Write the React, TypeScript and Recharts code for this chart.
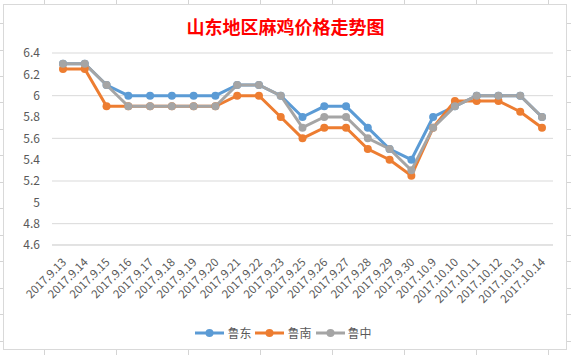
import React from 'react';
import { LineChart, Line, XAxis, YAxis, CartesianGrid } from 'recharts';

const DATES = [
  '2017.9.13', '2017.9.14', '2017.9.15', '2017.9.16', '2017.9.17', '2017.9.18',
  '2017.9.19', '2017.9.20', '2017.9.21', '2017.9.22', '2017.9.23', '2017.9.25',
  '2017.9.26', '2017.9.27', '2017.9.28', '2017.9.29', '2017.9.30', '2017.10.9',
  '2017.10.10', '2017.10.11', '2017.10.12', '2017.10.13', '2017.10.14'
];

const LUDONG = [6.3, 6.3, 6.1, 6.0, 6.0, 6.0, 6.0, 6.0, 6.1, 6.1, 6.0, 5.8, 5.9, 5.9, 5.7, 5.5, 5.4, 5.8, 5.9, 6.0, 6.0, 6.0, 5.8];
const LUNAN = [6.25, 6.25, 5.9, 5.9, 5.9, 5.9, 5.9, 5.9, 6.0, 6.0, 5.8, 5.6, 5.7, 5.7, 5.5, 5.4, 5.25, 5.7, 5.95, 5.95, 5.95, 5.85, 5.7];
const LUZHONG = [6.3, 6.3, 6.1, 5.9, 5.9, 5.9, 5.9, 5.9, 6.1, 6.1, 6.0, 5.7, 5.8, 5.8, 5.6, 5.5, 5.3, 5.7, 5.9, 6.0, 6.0, 6.0, 5.8];

const Y_TICKS = [4.6, 4.8, 5, 5.2, 5.4, 5.6, 5.8, 6, 6.2, 6.4];

const SERIES = [
  { key: 'ludong', name: '鲁东', color: '#5B9BD5' },
  { key: 'lunan', name: '鲁南', color: '#ED7D31' },
  { key: 'luzhong', name: '鲁中', color: '#A5A5A5' }
];

const data = DATES.map((date, i) => ({
  date,
  ludong: LUDONG[i],
  lunan: LUNAN[i],
  luzhong: LUZHONG[i]
}));

const FONT = '"Noto Sans CJK SC", "Noto Sans", sans-serif';
const TEXT = '#595959';
const GRID = '#D9D9D9';

// spreadsheet cell lines peeking around the chart frame
const COLS = [44, 116, 188, 260, 332, 404, 476, 548];
const ROWS = [23, 50, 76, 102, 129, 155, 182, 208, 235, 261, 288, 314, 341];

const XTick = (props: any) => {
  const { x, y, payload } = props;
  return (
    <g transform={`translate(${x + 4},${y + 10})`}>
      <text textAnchor="end" transform="rotate(-45)" fontSize={11.5} fill={TEXT} fontFamily={FONT}>
        {payload.value}
      </text>
    </g>
  );
};

const App: React.FC = () => {
  return (
    <div style={{ position: 'absolute', left: 0, top: 0, width: 571, height: 355, background: '#fff', fontFamily: FONT }}>
      <svg width={571} height={355} style={{ position: 'absolute', left: 0, top: 0 }}>
        {COLS.map((cx) => (
          <line key={`c${cx}`} x1={cx + 0.5} x2={cx + 0.5} y1={0} y2={355} stroke="#D4D4D4" />
        ))}
        {ROWS.map((ry) => (
          <line key={`r${ry}`} x1={0} x2={571} y1={ry + 0.5} y2={ry + 0.5} stroke="#D4D4D4" />
        ))}
      </svg>
      <div
        style={{
          position: 'absolute',
          left: 3,
          top: 4,
          width: 562,
          height: 344,
          border: `1px solid ${GRID}`,
          background: '#fff'
        }}
      />
      <div
        style={{
          position: 'absolute',
          left: 0,
          top: 14,
          width: 571,
          textAlign: 'center',
          color: '#FF0000',
          fontSize: 18,
          fontWeight: 'bold',
          lineHeight: '24px'
        }}
      >
        山东地区麻鸡价格走势图
      </div>
      <div style={{ position: 'absolute', left: 0, top: 0 }}>
        <LineChart width={571} height={355} data={data} margin={{ top: 53, right: 18, bottom: 0, left: 0 }}>
          <CartesianGrid vertical={false} stroke={GRID} />
          <XAxis
            dataKey="date"
            interval={0}
            padding={{ left: 11, right: 11 }}
            height={110}
            tickLine={false}
            axisLine={{ stroke: GRID }}
            tick={<XTick />}
          />
          <YAxis
            domain={[4.6, 6.4]}
            ticks={Y_TICKS}
            width={52}
            axisLine={false}
            tickLine={false}
            tickMargin={6}
            tick={{ fontSize: 12, fill: TEXT, fontFamily: FONT }}
          />
          {SERIES.map((s) => (
            <Line
              key={s.key}
              dataKey={s.key}
              name={s.name}
              stroke={s.color}
              strokeWidth={3}
              dot={{ r: 4, fill: s.color, stroke: s.color, strokeWidth: 0 }}
              isAnimationActive={false}
            />
          ))}
        </LineChart>
      </div>
      <div
        style={{
          position: 'absolute',
          left: 0,
          top: 324,
          width: 571,
          display: 'flex',
          justifyContent: 'center',
          alignItems: 'center',
          fontSize: 12,
          color: TEXT
        }}
      >
        {SERIES.map((s) => (
          <div key={s.key} style={{ display: 'flex', alignItems: 'center', marginRight: 4 }}>
            <svg width={29} height={12}>
              <line x1={0} x2={29} y1={6} y2={6} stroke={s.color} strokeWidth={3} />
              <circle cx={14.5} cy={6} r={4} fill={s.color} />
            </svg>
            <span style={{ marginLeft: 3 }}>{s.name}</span>
          </div>
        ))}
      </div>
    </div>
  );
};

export default App;
